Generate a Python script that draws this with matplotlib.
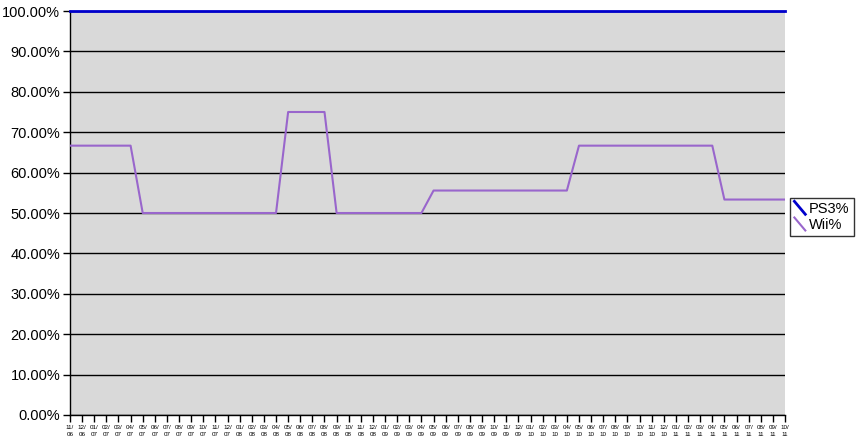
import matplotlib.pyplot as plt
from matplotlib.legend_handler import HandlerLine2D
from matplotlib.lines import Line2D

plt.rcParams['font.family'] = ['Liberation Sans', 'DejaVu Sans']

# months 11/06 .. 10/11
months = []
for y in range(6, 12):
    for m in range(1, 13):
        if (y == 6 and m < 11) or (y == 11 and m > 10):
            continue
        months.append('%02d/\n%02d' % (m, y))

ps3 = [100.0] * 60
wii = ([66.67] * 6 + [50.0] * 12 + [75.0] * 4 + [50.0] * 8 +
       [55.56] * 12 + [66.67] * 12 + [53.33] * 6)


class DiagHandler(HandlerLine2D):
    def create_artists(self, legend, orig_handle, xdescent, ydescent,
                       width, height, fontsize, trans):
        ln = Line2D([0, width], [height + 1, -1],
                    color=orig_handle.get_color(), lw=orig_handle.get_linewidth())
        ln.set_transform(trans)
        return [ln]


fig = plt.figure(figsize=(8.56, 4.43), dpi=100)
ax = fig.add_axes([70 / 856, 1 - 415 / 443, 715 / 856, 404 / 443])
ax.set_facecolor('#d9d9d9')

x = list(range(len(months)))
l1, = ax.plot(x, ps3, color='#0000cc', lw=2, label='PS3%', clip_on=False, zorder=4)
l2, = ax.plot(x, wii, color='#9966cc', lw=1.5, label='Wii%', zorder=3)

ax.set_xlim(0, len(months) - 1)
ax.set_ylim(0, 100)
ax.set_yticks(range(0, 101, 10))
ax.set_yticklabels(['%.2f%%' % v for v in range(0, 101, 10)], fontsize=10.5)
ax.set_xticks(x)
ax.set_xticklabels(months, fontsize=4.5, linespacing=1.5)
ax.tick_params(axis='both', direction='out', length=5, width=1, color='black')
ax.tick_params(axis='y', pad=2)
ax.tick_params(axis='x', pad=2)
ax.yaxis.grid(True, color='black', lw=1)
ax.set_axisbelow(True)
for s in ['top', 'right']:
    ax.spines[s].set_visible(False)
for s in ['left', 'bottom']:
    ax.spines[s].set_color('black')
    ax.spines[s].set_linewidth(1)

leg = fig.legend(handles=[l1, l2], loc='center left',
                 bbox_to_anchor=(790 / 856, 1 - 217 / 443), fontsize=10.5,
                 frameon=True, fancybox=False, edgecolor='black',
                 borderpad=0.3, handlelength=0.75, handletextpad=0.25,
                 labelspacing=0.15, borderaxespad=0,
                 handler_map={Line2D: DiagHandler()})
leg.get_frame().set_linewidth(1)

fig.savefig('out.png', dpi=100, facecolor='white')
